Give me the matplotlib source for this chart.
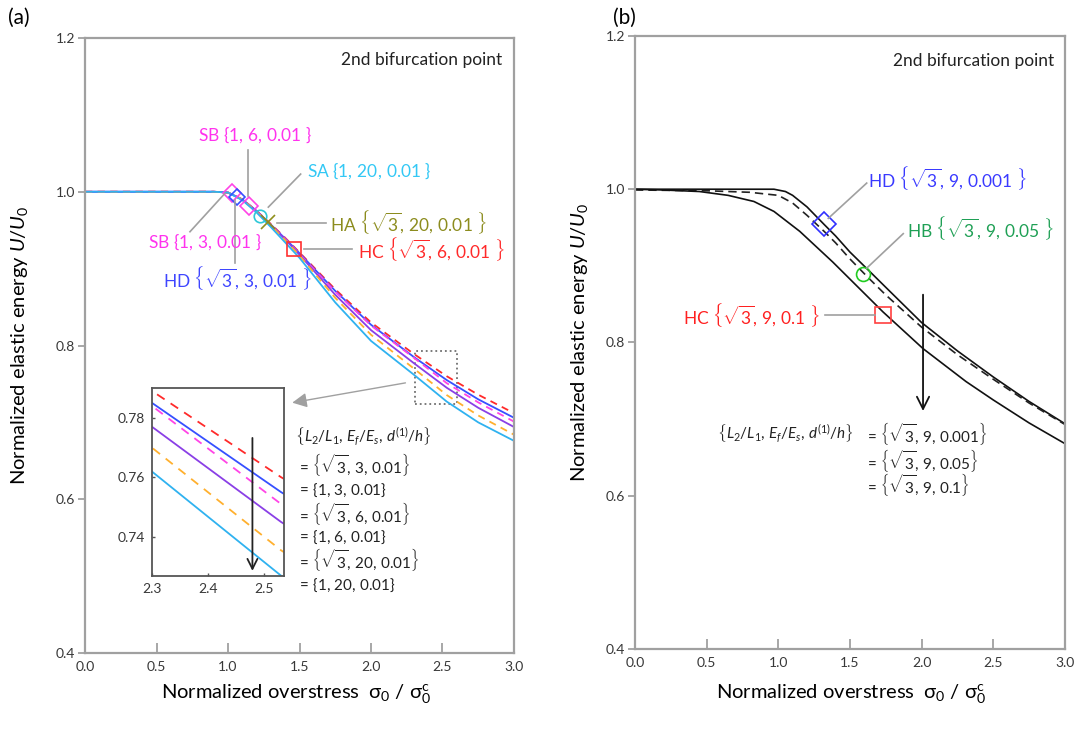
import numpy as np
import matplotlib
matplotlib.use('Agg')
import matplotlib.pyplot as plt
from matplotlib.patches import Rectangle
from matplotlib.mathtext import MathTextParser

plt.rcParams['font.family'] = ['Lato', 'DejaVu Sans']
plt.rcParams['mathtext.fontset'] = 'custom'
plt.rcParams['mathtext.rm'] = 'Lato'
plt.rcParams['mathtext.it'] = 'Lato:italic'
plt.rcParams['mathtext.bf'] = 'Lato:bold'

# ---- data, panel (a) ----
sig_a = [0.0, 0.5, 0.9, 1.0, 1.1, 1.2, 1.3, 1.4, 1.5, 1.75, 2.0, 2.3, 2.53, 2.75, 3.0]
u_red = [1.0, 1.0, 1.0, 0.999, 0.990, 0.975, 0.958, 0.940, 0.921, 0.873, 0.830, 0.789, 0.760, 0.736, 0.712]
u_blue = [1.0, 1.0, 1.0, 0.999, 0.990, 0.975, 0.957, 0.939, 0.920, 0.871, 0.827, 0.785, 0.755, 0.730, 0.706]
u_mag = [1.0, 1.0, 1.0, 0.999, 0.990, 0.975, 0.957, 0.939, 0.919, 0.870, 0.826, 0.784, 0.751, 0.726, 0.701]
u_purp = [1.0, 1.0, 1.0, 0.999, 0.990, 0.975, 0.957, 0.938, 0.918, 0.866, 0.820, 0.777, 0.745, 0.719, 0.694]
u_orng = [1.0, 1.0, 1.0, 0.999, 0.990, 0.974, 0.956, 0.937, 0.917, 0.862, 0.814, 0.770, 0.7355, 0.709, 0.684]
u_cyan = [1.0, 1.0, 1.0, 0.999, 0.989, 0.973, 0.954, 0.934, 0.914, 0.856, 0.806, 0.762, 0.727, 0.700, 0.676]

curves_a = [(u_red, '#ff2a2a', '--'), (u_blue, '#3650ff', '-'), (u_mag, '#ff44e6', '--'),
            (u_purp, '#8a3fe6', '-'), (u_orng, '#ffb02e', '--'), (u_cyan, '#2fb2f0', '-')]

# parameter sets {L2/L1, Ef/Es, d/h}
sets_a = [('3', '3', '0.01'), ('1', '3', '0.01'), ('3', '6', '0.01'),
          ('1', '6', '0.01'), ('3', '20', '0.01'), ('1', '20', '0.01')]
sets_b = [('3', '9', '0.001'), ('3', '9', '0.05'), ('3', '9', '0.1')]

# ---- data, panel (b) ----
sig_top = [0.0, 0.5, 0.97, 1.05, 1.1, 1.2, 1.32, 1.4, 1.5, 1.62, 1.75, 2.0, 2.25, 2.5, 2.75, 3.0]
u_top = [1.0, 1.0, 1.0, 0.997, 0.992, 0.977, 0.954, 0.939, 0.918, 0.896, 0.872, 0.826, 0.789, 0.755, 0.723, 0.694]
sig_mid = [0.0, 0.5, 0.8, 1.0, 1.1, 1.2, 1.32, 1.4, 1.5, 1.62, 1.75, 2.0, 2.25, 2.5, 2.75, 3.0]
u_mid = [0.999, 0.998, 0.996, 0.992, 0.982, 0.966, 0.945, 0.930, 0.909, 0.886, 0.862, 0.820, 0.784, 0.752, 0.721, 0.693]
sig_bot = [0.0, 0.2, 0.45, 0.65, 0.83, 0.97, 1.15, 1.38, 1.73, 2.01, 2.31, 2.5, 2.75, 3.0]
u_bot = [1.0, 0.999, 0.997, 0.992, 0.984, 0.971, 0.945, 0.905, 0.840, 0.792, 0.749, 0.725, 0.695, 0.668]

header = r'$\left\{L_2/L_1,\,E_f/E_s,\,d^{(1)}/h\right\}$'

spine_c = '#a0a0a0'
tick_c = '#383838'
lead_c = '#a0a0a0'


def _parses(s):
    try:
        MathTextParser('path').parse(s, 72)
        return True
    except Exception:
        return False


STRUT = r'\vphantom{\sqrt{3}}' if _parses(r'$\left\{\vphantom{\sqrt{3}}1\right\}$') else ''


def pset(p, trail=''):
    # braces text like {sqrt3, 9, 0.01}
    first = r'\sqrt{3}' if p[0] == '3' else '1'
    body = first + r',\,' + p[1] + r',\,' + p[2] + trail
    if p[0] == '3' or STRUT:
        return r'\left\{' + STRUT + body + r'\right\}'
    return r'\{' + body + r'\}'


fig = plt.figure(figsize=(10.83, 7.31), dpi=100)
ax1 = fig.add_axes([0.0785, 0.1067, 0.3961, 0.8413])
ax2 = fig.add_axes([0.5863, 0.1122, 0.3970, 0.8386])


def style_axes(ax):
    ax.set_xlim(0, 3.0)
    ax.set_ylim(0.4, 1.2)
    ax.set_xticks(np.arange(0, 3.01, 0.5))
    ax.set_yticks([0.4, 0.6, 0.8, 1.0, 1.2])
    ax.xaxis.set_major_formatter(matplotlib.ticker.FormatStrFormatter('%.1f'))
    ax.yaxis.set_major_formatter(matplotlib.ticker.FormatStrFormatter('%.1f'))
    for s in ax.spines.values():
        s.set_color(spine_c)
        s.set_linewidth(1.6)
    ax.tick_params(axis='x', direction='in', length=7, width=1.3, color=spine_c,
                   labelsize=10, labelcolor=tick_c, pad=6)
    ax.tick_params(axis='y', direction='out', length=5, width=1.3, color=spine_c,
                   labelsize=10, labelcolor=tick_c, pad=2)
    ax.set_xlabel(r'Normalized overstress  σ$_0$ / σ$_0^{\rm c}$', fontsize=14.5)
    ax.set_ylabel(r'Normalized elastic energy $U/U_0$', fontsize=14.5)


# ---------- panel (a) ----------
style_axes(ax1)
ax1.xaxis.set_label_coords(0.492, -0.049)
ax1.yaxis.set_label_coords(-0.128, 0.5)
for u, c, ls in curves_a:
    if ls == '--':
        ax1.plot(sig_a, u, color=c, lw=1.3, dashes=(4, 3))
    else:
        ax1.plot(sig_a, u, color=c, lw=1.3)

# markers on the curves
ax1.plot([1.026, 1.147], [0.998, 0.982], 'D', ms=9, mfc='none', mec='#ff44e6', mew=1.2)
ax1.plot([1.061], [0.9937], 'D', ms=8, mfc='none', mec='#3650ff', mew=1.2)
ax1.plot([1.226], [0.9687], 'o', ms=9, mfc='none', mec='#2ec8d8', mew=1.2)
ax1.plot([1.277], [0.9603], 'x', ms=10, mec='#8f8f1c', mew=1.2)
ax1.plot([1.462], [0.925], 's', ms=10, mfc='none', mec='#ff3030', mew=1.2)

# leader lines and labels
fs_ann = 12.5
ax1.plot([1.14, 1.14], [1.054, 0.995], color=lead_c, lw=1.2)
ax1.text(1.19, 1.074, 'SB $' + pset(('1', '6', '0.01'), r'\ ') + '$', color='#ff33ee', fontsize=fs_ann, ha='center', va='center')
ax1.plot([1.508, 1.282], [1.023, 0.980], color=lead_c, lw=1.2)
ax1.text(1.55, 1.027, 'SA $' + pset(('1', '20', '0.01'), r'\ ') + '$', color='#33c8f5', fontsize=fs_ann, ha='left', va='center')
ax1.plot([1.34, 1.683], [0.959, 0.959], color=lead_c, lw=1.2)
ax1.text(1.713, 0.961, 'HA $' + pset(('3', '20', '0.01'), r'\ ') + '$', color='#8c8c1e', fontsize=fs_ann, ha='left', va='center')
ax1.plot([1.531, 1.865], [0.925, 0.925], color=lead_c, lw=1.2)
ax1.text(1.911, 0.9255, 'HC $' + pset(('3', '6', '0.01'), r'\ ') + '$', color='#ff2a2a', fontsize=fs_ann, ha='left', va='center')
ax1.plot([1.049, 1.049], [0.907, 0.989], color=lead_c, lw=1.2)
ax1.text(0.543, 0.888, 'HD $' + pset(('3', '3', '0.01'), r'\ ') + '$', color='#3f46ff', fontsize=fs_ann, ha='left', va='center')
ax1.plot([0.734, 0.979], [0.948, 0.998], color=lead_c, lw=1.2)
ax1.text(0.44, 0.935, 'SB $' + pset(('1', '3', '0.01'), r'\ ') + '$', color='#ff33ee', fontsize=fs_ann, ha='left', va='center')

ax1.text(2.92, 1.171, '2nd bifurcation point', fontsize=12.5, ha='right', va='center', color='#222222')

# zoom box and arrow to inset
ax1.add_patch(Rectangle((2.31, 0.724), 0.29, 0.069, fill=False, ls=':', lw=1.3, ec='#707070'))
ax1.annotate('', xy=(1.43, 0.725), xytext=(2.26, 0.752),
             arrowprops=dict(arrowstyle='-|>', color='#a0a0a0', lw=1.0, mutation_scale=22))

# legend text
ax1.text(1.469, 0.681, header, fontsize=11, ha='left', va='center', color='#222222')
ys_a = [0.645, 0.612, 0.582, 0.551, 0.521, 0.488]
for p, yy in zip(sets_a, ys_a):
    ax1.text(1.480, yy, r'$=\,' + pset(p) + '$', fontsize=11, ha='left', va='center', color='#222222')

# inset
axin = fig.add_axes([0.140, 0.2124, 0.1222, 0.2572])
for u, c, ls in curves_a:
    if ls == '--':
        axin.plot(sig_a, u, color=c, lw=1.3, dashes=(5, 4))
    else:
        axin.plot(sig_a, u, color=c, lw=1.3)
axin.set_xlim(2.3, 2.535)
axin.set_ylim(0.727, 0.79)
axin.set_xticks([2.3, 2.4, 2.5])
axin.set_yticks([0.74, 0.76, 0.78])
for s in axin.spines.values():
    s.set_color('#555555')
    s.set_linewidth(1.3)
axin.tick_params(direction='in', length=2, width=1, color='#555555', labelsize=10, labelcolor=tick_c, pad=5)
axin.annotate('', xy=(2.479, 0.7277), xytext=(2.479, 0.7741),
              arrowprops=dict(arrowstyle='->', color='#222222', lw=1.3, mutation_scale=18))

# ---------- panel (b) ----------
style_axes(ax2)
ax2.xaxis.set_label_coords(0.502, -0.055)
ax2.yaxis.set_label_coords(-0.105, 0.5)
ax2.plot(sig_top, u_top, color='#111111', lw=1.2)
ax2.plot(sig_mid, u_mid, color='#222222', lw=1.2, dashes=(5, 3))
ax2.plot(sig_bot, u_bot, color='#111111', lw=1.2)

ax2.plot([1.321], [0.954], 'D', ms=12, mfc='none', mec='#3030ff', mew=1.2)
ax2.plot([1.589], [0.890], 'o', ms=10, mfc='none', mec='#22cc22', mew=1.2)
ax2.plot([1.733], [0.836], 's', ms=11, mfc='none', mec='#ff4040', mew=1.2)

ax2.plot([1.349, 1.617], [0.962, 1.008], color=lead_c, lw=1.2)
ax2.text(1.628, 1.014, 'HD $' + pset(sets_b[0], r'\ ') + '$', color='#3a3aff', fontsize=fs_ann, ha='left', va='center')
ax2.plot([1.617, 1.872], [0.897, 0.942], color=lead_c, lw=1.2)
ax2.text(1.896, 0.949, 'HB $' + pset(sets_b[1], r'\ ') + '$', color='#1fa055', fontsize=fs_ann, ha='left', va='center')
ax2.plot([1.326, 1.675], [0.836, 0.836], color=lead_c, lw=1.2)
ax2.text(1.291, 0.836, 'HC $' + pset(sets_b[2], r'\ ') + '$', color='#ff2020', fontsize=fs_ann, ha='right', va='center')

ax2.text(2.924, 1.167, '2nd bifurcation point', fontsize=12.5, ha='right', va='center', color='#222222')

ax2.annotate('', xy=(2.01, 0.707), xytext=(2.01, 0.866),
             arrowprops=dict(arrowstyle='->', color='#111111', lw=1.3, mutation_scale=22))

ax2.text(0.570, 0.681, header, fontsize=11, ha='left', va='center', color='#222222')
ys_b = [0.681, 0.646, 0.614]
for p, yy in zip(sets_b, ys_b):
    ax2.text(1.605, yy, r'$=\,' + pset(p) + '$', fontsize=11, ha='left', va='center', color='#222222')

fig.text(8 / 1083, 1 - 18 / 731, '(a)', fontsize=15, ha='left', va='center')
fig.text(613 / 1083, 1 - 18 / 731, '(b)', fontsize=15, ha='left', va='center')

fig.savefig('out.png', dpi=100)
